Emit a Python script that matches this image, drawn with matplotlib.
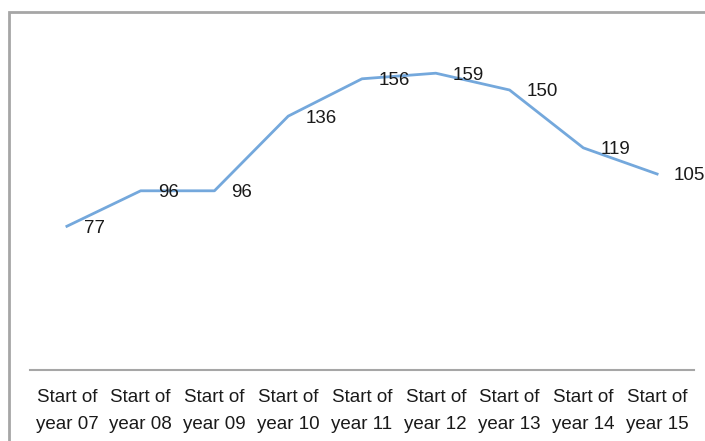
import matplotlib
matplotlib.use('Agg')
from matplotlib import pyplot as plt
from matplotlib.patches import Rectangle

categories = ['Start of\nyear 07', 'Start of\nyear 08', 'Start of\nyear 09',
              'Start of\nyear 10', 'Start of\nyear 11', 'Start of\nyear 12',
              'Start of\nyear 13', 'Start of\nyear 14', 'Start of\nyear 15']
values = [77, 96, 96, 136, 156, 159, 150, 119, 105]

plt.rcParams['font.family'] = ['Liberation Sans Narrow', 'Liberation Sans', 'DejaVu Sans']

W, H = 705, 441
fig = plt.figure(figsize=(W / 100, H / 100), dpi=100)

# chart area border (runs off the right and bottom edges)
fig.patches.append(Rectangle((9 / W, -0.1), 1.2, 1 - 12 / H + 0.1,
                             transform=fig.transFigure, fill=False,
                             edgecolor='#a6a6a6', linewidth=2, zorder=0))

ax = fig.add_axes([30 / W, (H - 370) / H, (694 - 30) / W, (370 - 34) / H])
x = list(range(len(values)))
ax.plot(x, values, color='#74a8dc', linewidth=2)
ax.set_xlim(-0.5, len(values) - 0.5)
ax.set_ylim(0, 180)

for i, v in zip(x, values):
    ax.annotate(str(v), (i, v), xytext=(17, -2), textcoords='offset pixels',
                ha='left', va='center', fontsize=13.5, color='#1a1a1a')

for s in ['left', 'right', 'top']:
    ax.spines[s].set_visible(False)
ax.spines['bottom'].set_color('#a6a6a6')
ax.spines['bottom'].set_linewidth(1.5)
ax.set_yticks([])
ax.set_xticks(x)
ax.set_xticklabels(categories, fontsize=13.5, color='#1a1a1a', linespacing=1.7)
ax.tick_params(axis='x', length=0, pad=14)

fig.savefig('out.png', dpi=100)
